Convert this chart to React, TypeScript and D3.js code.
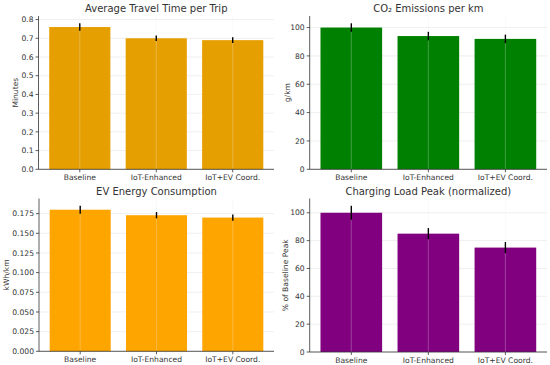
import React from "react";
import * as d3 from "d3";

const categories = ["Baseline", "IoT-Enhanced", "IoT+EV Coord."];

const travelTime = [0.76, 0.70, 0.69];
const travelErr = [0.02, 0.015, 0.015];
const co2 = [100, 94, 92];
const co2Err = [3, 3, 3];
const energy = [0.18, 0.173, 0.17];
const energyErr = [0.005, 0.004, 0.004];
const peak = [100, 85, 75];
const peakErr = [5, 4, 4];

const travelTicks = [0, 0.1, 0.2, 0.3, 0.4, 0.5, 0.6, 0.7, 0.8];
const co2Ticks = [0, 20, 40, 60, 80, 100];
const energyTicks = [0, 0.025, 0.05, 0.075, 0.1, 0.125, 0.15, 0.175];
const peakTicks = [0, 20, 40, 60, 80, 100];

const FONT = "DejaVu Sans, sans-serif";
const FS = 7.6;

type PanelProps = {
  left: number;
  right: number;
  top: number;
  bottom: number;
  title: string;
  titleY: number;
  ylabel: string;
  ylabelX: number;
  values: number[];
  errors: number[];
  ticks: number[];
  fmt: (v: number) => string;
  color: string;
};

function Panel(p: PanelProps) {
  const maxV = d3.max(p.values.map((v, i) => v + p.errors[i])) as number;
  const y = d3.scaleLinear().domain([0, maxV * 1.05]).range([p.bottom, p.top]);
  const x = d3.scaleLinear().domain([-0.54, 2.54]).range([p.left, p.right]);
  const bw = x(0.4) - x(0);
  const tc = "#333";
  return (
    <g>
      {p.ticks.map((t, i) => (
        <line key={"hg" + i} x1={p.left} x2={p.right} y1={y(t)} y2={y(t)} stroke="#ebebeb" strokeWidth={0.8} />
      ))}
      {p.values.map((v, i) => (
        <rect key={"b" + i} x={x(i) - bw} width={bw * 2} y={y(v)} height={p.bottom - y(v)} fill={p.color} />
      ))}
      {categories.map((c, i) => (
        <line key={"vg" + i} x1={x(i)} x2={x(i)} y1={p.top} y2={p.bottom} stroke="#e8e8e8" strokeOpacity={0.35} strokeWidth={0.8} />
      ))}
      {p.values.map((v, i) => (
        <line key={"e" + i} x1={x(i)} x2={x(i)} y1={y(v - p.errors[i])} y2={y(v + p.errors[i])} stroke="#000" strokeWidth={1.4} />
      ))}
      <line x1={p.left} x2={p.left} y1={p.top} y2={p.bottom} stroke={tc} strokeWidth={0.8} />
      <line x1={p.left} x2={p.right} y1={p.bottom} y2={p.bottom} stroke={tc} strokeWidth={0.8} />
      {p.ticks.map((t, i) => (
        <g key={"yt" + i}>
          <line x1={p.left - 3} x2={p.left} y1={y(t)} y2={y(t)} stroke={tc} strokeWidth={0.8} />
          <text x={p.left - 5} y={y(t)} dy="0.35em" textAnchor="end" fontSize={FS} fill={tc} fontFamily={FONT}>
            {p.fmt(t)}
          </text>
        </g>
      ))}
      {categories.map((c, i) => (
        <g key={"xt" + i}>
          <line x1={x(i)} x2={x(i)} y1={p.bottom} y2={p.bottom + 3} stroke={tc} strokeWidth={0.8} />
          <text x={x(i)} y={p.bottom + 10.5} textAnchor="middle" fontSize={FS} fill={tc} fontFamily={FONT}>
            {c}
          </text>
        </g>
      ))}
      <text
        transform={`translate(${p.ylabelX},${(p.top + p.bottom) / 2}) rotate(-90)`}
        textAnchor="middle"
        dy="0.35em"
        fontSize={FS}
        fill={tc}
        fontFamily={FONT}
      >
        {p.ylabel}
      </text>
      <text x={(p.left + p.right) / 2} y={p.titleY} textAnchor="middle" fontSize={10} fill={tc} fontFamily={FONT}>
        {p.title}
      </text>
    </g>
  );
}

export default function App() {
  return (
    <svg width={550} height={365} style={{ position: "absolute", left: 0, top: 0, background: "#fff" }}>
      <rect width={550} height={365} fill="#fff" />
      <Panel
        left={38.5} right={274} top={16} bottom={169.3}
        title="Average Travel Time per Trip" titleY={12}
        ylabel="Minutes" ylabelX={15}
        values={travelTime} errors={travelErr} ticks={travelTicks}
        fmt={d3.format(".1f")} color="#E69F00"
      />
      <Panel
        left={309.7} right={547} top={16} bottom={169.3}
        title="CO₂ Emissions per km" titleY={12}
        ylabel="g/km" ylabelX={287}
        values={co2} errors={co2Err} ticks={co2Ticks}
        fmt={d3.format("d")} color="#008000"
      />
      <Panel
        left={39} right={274} top={198.5} bottom={351.3}
        title="EV Energy Consumption" titleY={194.5}
        ylabel="kWh/km" ylabelX={6}
        values={energy} errors={energyErr} ticks={energyTicks}
        fmt={d3.format(".3f")} color="#FFA500"
      />
      <Panel
        left={309.7} right={547} top={198.5} bottom={352}
        title="Charging Load Peak (normalized)" titleY={194.5}
        ylabel="% of Baseline Peak" ylabelX={285}
        values={peak} errors={peakErr} ticks={peakTicks}
        fmt={d3.format("d")} color="#800080"
      />
    </svg>
  );
}
